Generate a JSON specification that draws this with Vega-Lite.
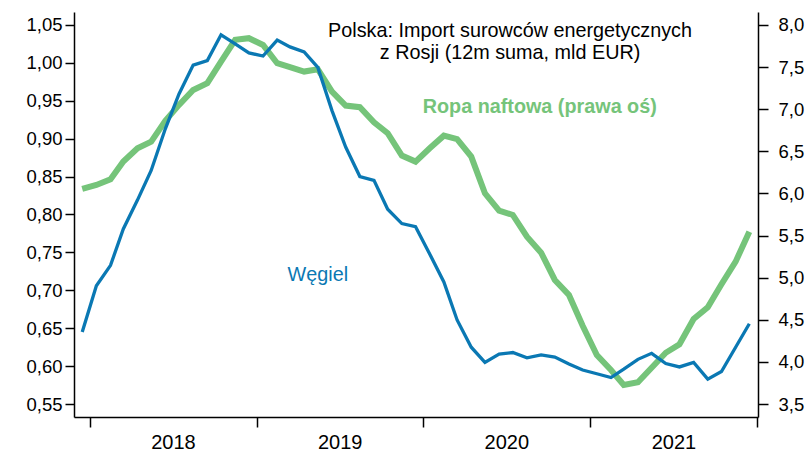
{
  "$schema": "https://vega.github.io/schema/vega-lite/v6.json",
  "width": 684,
  "height": 405,
  "autosize": {"type": "none"},
  "padding": {"left": 74, "top": 12, "right": 50, "bottom": 35},
  "background": "white",
  "config": {
    "view": {"stroke": null},
    "font": "Liberation Sans",
    "axis": {
      "domainColor": "black",
      "tickColor": "black",
      "labelColor": "black",
      "grid": false,
      "domainWidth": 1.5,
      "tickWidth": 1.5,
      "labelFont": "Liberation Sans",
      "title": null,
      "labelFlush": false,
      "labelOverlap": false,
      "labelBound": false
    }
  },
  "encoding": {
    "x": {
      "field": "date",
      "type": "temporal",
      "scale": {
        "type": "utc",
        "domain": [
          {"year": 2017, "month": 11, "date": 27, "utc": true},
          {"year": 2022, "month": 1, "date": 3, "utc": true}
        ]
      },
      "axis": {
        "orient": "bottom",
        "values": [
          {"year": 2018, "month": 1, "date": 1, "utc": true},
          {"year": 2019, "month": 1, "date": 1, "utc": true},
          {"year": 2020, "month": 1, "date": 1, "utc": true},
          {"year": 2021, "month": 1, "date": 1, "utc": true},
          {"year": 2022, "month": 1, "date": 1, "utc": true}
        ],
        "labelExpr": "utcyear(datum.value) >= 2022 ? '' : utcFormat(datum.value, '%Y')",
        "labelOffset": 83,
        "tickSize": 10,
        "labelPadding": 5,
        "labelFontSize": 20
      }
    }
  },
  "layer": [
    {
      "data": {"name": "series"},
      "mark": {"type": "line", "color": "#75c47a", "strokeWidth": 6},
      "encoding": {
        "y": {
          "field": "ropa",
          "type": "quantitative",
          "scale": {"domain": [3.346, 8.154], "nice": false, "zero": false},
          "axis": {
            "orient": "right",
            "values": [3.5, 4.0, 4.5, 5.0, 5.5, 6.0, 6.5, 7.0, 7.5, 8.0],
            "labelExpr": "replace(format(datum.value, '.1f'), '.', ',')",
            "tickSize": 10,
            "labelPadding": 10,
            "labelFontSize": 18.5
          }
        }
      }
    },
    {
      "layer": [
        {
          "data": {"name": "series"},
          "mark": {"type": "line", "color": "#0a78b3", "strokeWidth": 3.3},
          "encoding": {
            "y": {
              "field": "wegiel",
              "type": "quantitative",
              "scale": {"domain": [0.533, 1.067], "nice": false, "zero": false},
              "axis": {
                "orient": "left",
                "values": [0.55, 0.6, 0.65, 0.7, 0.75, 0.8, 0.85, 0.9, 0.95, 1.0, 1.05],
                "labelExpr": "replace(format(datum.value, '.2f'), '.', ',')",
                "tickSize": 9,
                "labelPadding": 3,
                "labelFontSize": 18.5
              }
            }
          }
        },
        {
          "data": {"values": [
            {"date": "2020-07-09", "v": 1.042, "label": "Polska: Import surowców energetycznych"},
            {"date": "2020-07-09", "v": 1.013, "label": "z Rosji (12m suma, mld EUR)"}
          ]},
          "mark": {"type": "text", "fontSize": 19.8, "color": "black", "align": "center", "baseline": "middle", "font": "Liberation Sans"},
          "encoding": {
            "y": {"field": "v", "type": "quantitative"},
            "text": {"field": "label"}
          }
        },
        {
          "data": {"values": [
            {"date": "2020-09-12", "v": 0.942, "label": "Ropa naftowa (prawa oś)"}
          ]},
          "mark": {"type": "text", "fontSize": 19.8, "fontWeight": "bold", "color": "#75c47a", "align": "center", "baseline": "middle", "font": "Liberation Sans"},
          "encoding": {
            "y": {"field": "v", "type": "quantitative"},
            "text": {"field": "label"}
          }
        },
        {
          "data": {"values": [
            {"date": "2019-05-15", "v": 0.72, "label": "Węgiel"}
          ]},
          "mark": {"type": "text", "fontSize": 19.8, "color": "#0a78b3", "align": "center", "baseline": "middle", "font": "Liberation Sans"},
          "encoding": {
            "y": {"field": "v", "type": "quantitative"},
            "text": {"field": "label"}
          }
        }
      ]
    }
  ],
  "resolve": {"scale": {"y": "independent"}},
  "datasets": {
    "series": [
      {"date": "2017-12-15", "wegiel": 0.645, "ropa": 6.053},
      {"date": "2018-01-15", "wegiel": 0.706, "ropa": 6.101},
      {"date": "2018-02-15", "wegiel": 0.733, "ropa": 6.168},
      {"date": "2018-03-15", "wegiel": 0.781, "ropa": 6.378},
      {"date": "2018-04-15", "wegiel": 0.819, "ropa": 6.537},
      {"date": "2018-05-15", "wegiel": 0.858, "ropa": 6.615},
      {"date": "2018-06-15", "wegiel": 0.913, "ropa": 6.861},
      {"date": "2018-07-15", "wegiel": 0.959, "ropa": 7.051},
      {"date": "2018-08-15", "wegiel": 0.997, "ropa": 7.229},
      {"date": "2018-09-15", "wegiel": 1.003, "ropa": 7.309},
      {"date": "2018-10-15", "wegiel": 1.037, "ropa": 7.565},
      {"date": "2018-11-15", "wegiel": 1.025, "ropa": 7.823},
      {"date": "2018-12-15", "wegiel": 1.013, "ropa": 7.843},
      {"date": "2019-01-15", "wegiel": 1.009, "ropa": 7.763},
      {"date": "2019-02-15", "wegiel": 1.030, "ropa": 7.546},
      {"date": "2019-03-15", "wegiel": 1.021, "ropa": 7.499},
      {"date": "2019-04-15", "wegiel": 1.0145, "ropa": 7.447},
      {"date": "2019-05-15", "wegiel": 0.994, "ropa": 7.475},
      {"date": "2019-06-15", "wegiel": 0.937, "ropa": 7.209},
      {"date": "2019-07-15", "wegiel": 0.889, "ropa": 7.043},
      {"date": "2019-08-15", "wegiel": 0.850, "ropa": 7.024},
      {"date": "2019-09-15", "wegiel": 0.845, "ropa": 6.845},
      {"date": "2019-10-15", "wegiel": 0.807, "ropa": 6.715},
      {"date": "2019-11-15", "wegiel": 0.788, "ropa": 6.449},
      {"date": "2019-12-15", "wegiel": 0.784, "ropa": 6.378},
      {"date": "2020-01-15", "wegiel": 0.748, "ropa": 6.537},
      {"date": "2020-02-15", "wegiel": 0.711, "ropa": 6.686},
      {"date": "2020-03-15", "wegiel": 0.661, "ropa": 6.644},
      {"date": "2020-04-15", "wegiel": 0.625, "ropa": 6.437},
      {"date": "2020-05-15", "wegiel": 0.605, "ropa": 6.002},
      {"date": "2020-06-15", "wegiel": 0.616, "ropa": 5.796},
      {"date": "2020-07-15", "wegiel": 0.618, "ropa": 5.745},
      {"date": "2020-08-15", "wegiel": 0.611, "ropa": 5.487},
      {"date": "2020-09-15", "wegiel": 0.615, "ropa": 5.297},
      {"date": "2020-10-15", "wegiel": 0.612, "ropa": 4.973},
      {"date": "2020-11-15", "wegiel": 0.603, "ropa": 4.794},
      {"date": "2020-12-15", "wegiel": 0.595, "ropa": 4.43},
      {"date": "2021-01-15", "wegiel": 0.590, "ropa": 4.082},
      {"date": "2021-02-15", "wegiel": 0.585, "ropa": 3.904},
      {"date": "2021-03-15", "wegiel": 0.596, "ropa": 3.726},
      {"date": "2021-04-15", "wegiel": 0.609, "ropa": 3.758},
      {"date": "2021-05-15", "wegiel": 0.617, "ropa": 3.931},
      {"date": "2021-06-15", "wegiel": 0.6035, "ropa": 4.109},
      {"date": "2021-07-15", "wegiel": 0.599, "ropa": 4.209},
      {"date": "2021-08-15", "wegiel": 0.605, "ropa": 4.51},
      {"date": "2021-09-15", "wegiel": 0.583, "ropa": 4.648},
      {"date": "2021-10-15", "wegiel": 0.593, "ropa": 4.921},
      {"date": "2021-11-15", "wegiel": 0.625, "ropa": 5.19},
      {"date": "2021-12-15", "wegiel": 0.656, "ropa": 5.546}
    ]
  }
}
